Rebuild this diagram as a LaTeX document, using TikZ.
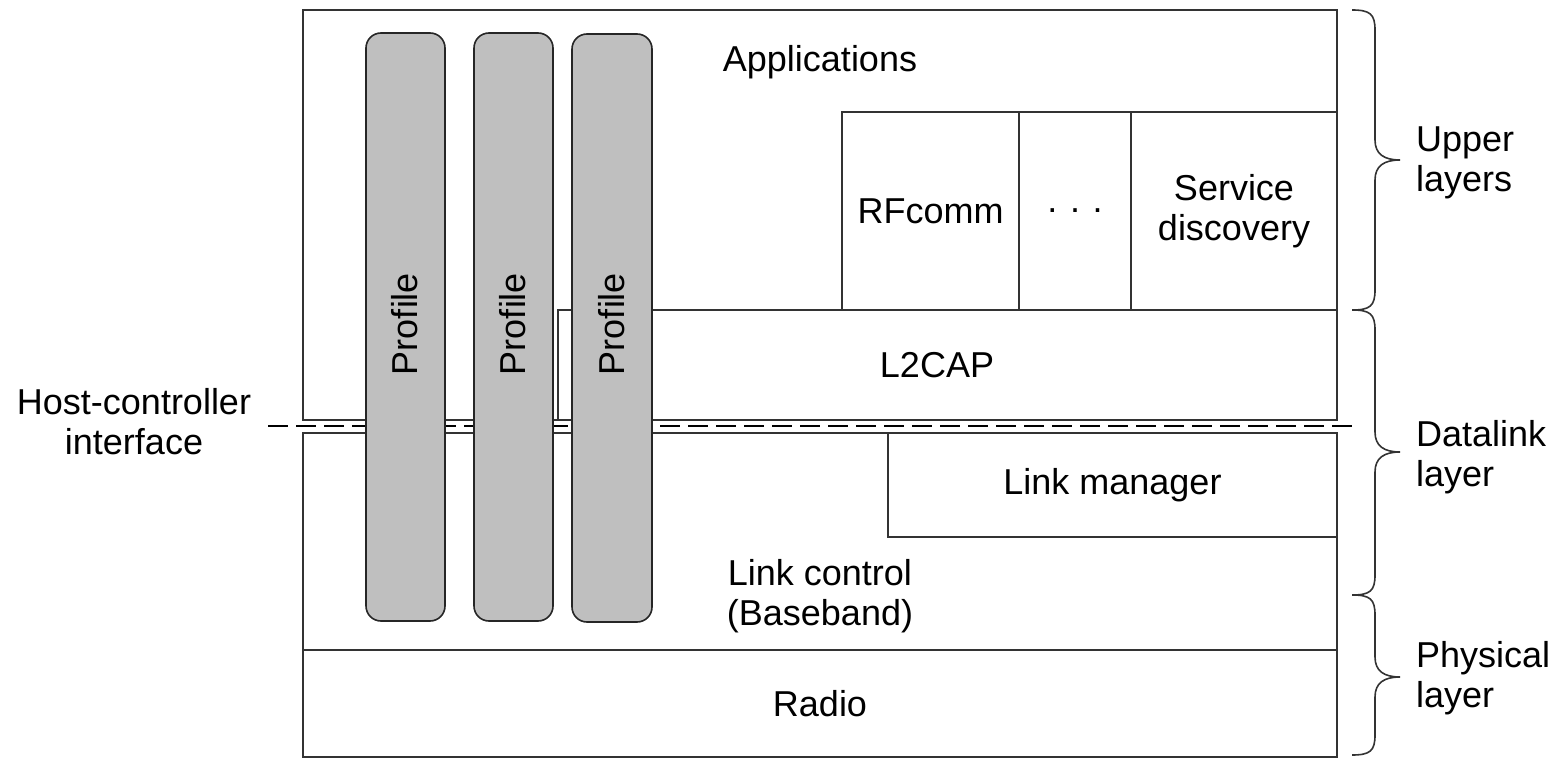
\documentclass[tikz,border=0pt]{standalone}
\usepackage{fontspec}
\setmainfont{Liberation Sans}
\begin{document}
\begin{tikzpicture}[x=1pt,y=-1pt,
  every node/.style={inner sep=0pt,outer sep=0pt,font=\fontsize{36}{40}\selectfont},
  layerbox/.style={draw=black!80,line width=1.6pt,rectangle,anchor=north west},
  profilebox/.style={draw=black!85,line width=1.6pt,fill=black!25,rounded corners=15pt,anchor=north west,minimum width=79pt,minimum height=588pt},
  txt/.style={align=center},
  sidetxt/.style={align=left,anchor=west},
  bracepath/.style={draw=black!80,line width=1.6pt},
  hci/.style={draw=black,line width=1.6pt,dash pattern=on 20pt off 8pt}
]
\useasboundingbox (0,0) rectangle (1564,759);
% upper block
\node[layerbox,minimum width=1034pt,minimum height=410pt] (upper) at (303,10) {};
\node[layerbox,minimum width=779pt,minimum height=110pt] (l2cap) at (558,310) {};
\node[layerbox,minimum width=177pt,minimum height=198pt] (rfcomm) at (842,112) {};
\node[layerbox,minimum width=112pt,minimum height=198pt] (dots) at (1019,112) {};
\node[layerbox,minimum width=206pt,minimum height=198pt] (sdp) at (1131,112) {};
% lower block
\node[layerbox,minimum width=1034pt,minimum height=217pt] (lc) at (303,433) {};
\node[layerbox,minimum width=449pt,minimum height=104pt] (lm) at (888,433) {};
\node[layerbox,minimum width=1034pt,minimum height=107pt] (radio) at (303,650) {};
% labels
\node[txt] (tapp) at (820,62) {Applications};
\node[txt] at (rfcomm.center) {RFcomm};
\node[txt] at (dots.center) {.\hspace{0.35em}.\hspace{0.35em}.};
\node[txt] at (sdp.center) {Service\\discovery};
\node[txt] at (937,365) {L2CAP};
\node[txt] at (lm.center) {Link manager};
\node[txt] at (820,596) {Link control\\(Baseband)};
\node[txt] at (radio.center) {Radio};
% HCI dashed line
\coordinate (hcil) at (268,426);
\coordinate (hcir) at (1357,426);
\draw[hci] (hcil) -- (hcir);
\node[txt] (hcitxt) at (134,422) {Host-controller\\interface};
% profiles
\node[profilebox] (p1) at (366,33) {};
\node[profilebox] (p2) at (474,33) {};
\node[profilebox,minimum width=80pt] (p3) at (572,34) {};
\node[rotate=90] at (405,324) {Profile};
\node[rotate=90] at (513,324) {Profile};
\node[rotate=90] at (612,324) {Profile};
% braces
\coordinate (b1) at (1352,10);
\coordinate (b2) at (1352,310);
\coordinate (b3) at (1352,595);
\coordinate (b4) at (1352,755);
\draw[bracepath] (b1) .. controls (1370,10) and (1375,14) .. (1375,30) -- (1375,140)
  .. controls (1375,154) and (1384,160) .. (1400,160)
  .. controls (1384,160) and (1375,166) .. (1375,180) -- (1375,290)
  .. controls (1375,306) and (1370,310) .. (b2);
\draw[bracepath] (b2) .. controls (1370,310) and (1375,314) .. (1375,330) -- (1375,432)
  .. controls (1375,446) and (1384,452) .. (1400,452)
  .. controls (1384,452) and (1375,458) .. (1375,472) -- (1375,575)
  .. controls (1375,591) and (1370,595) .. (b3);
\draw[bracepath] (b3) .. controls (1370,595) and (1375,599) .. (1375,615) -- (1375,657)
  .. controls (1375,671) and (1384,677) .. (1400,677)
  .. controls (1384,677) and (1375,683) .. (1375,697) -- (1375,735)
  .. controls (1375,751) and (1370,755) .. (b4);
\node[sidetxt] at (1416,163) {Upper\\layers};
\node[sidetxt] at (1416,457) {Datalink\\layer};
\node[sidetxt] at (1416,678) {Physical\\layer};
\end{tikzpicture}
\end{document}
